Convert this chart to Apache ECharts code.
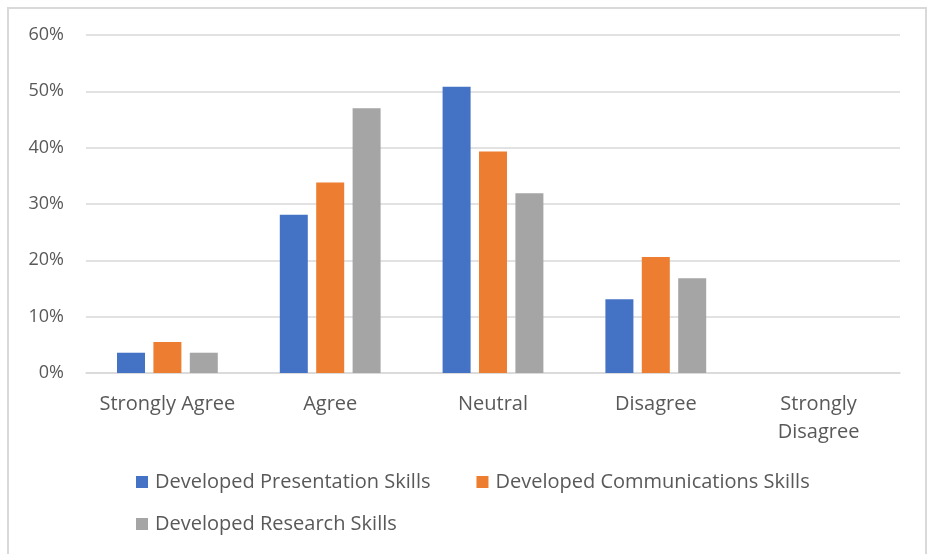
<!DOCTYPE html>
<html><head><meta charset="utf-8">
<script src="https://cdn.jsdelivr.net/npm/echarts@6/dist/echarts.min.js"></script>
<style>html,body{margin:0;padding:0;background:#fff}#c{width:928px;height:554px}</style>
</head><body><div id="c"></div>
<script>
const categories = ['Strongly Agree', 'Agree', 'Neutral', 'Disagree', 'Strongly\nDisagree'];
const presentation = [3.6, 28.1, 50.8, 13.1, 0];
const communications = [5.5, 33.8, 39.3, 20.6, 0];
const research = [3.6, 47.0, 31.9, 16.8, 0];
const seriesNames = ['Developed Presentation Skills', 'Developed Communications Skills', 'Developed Research Skills'];
const yTicks = [0, 10, 20, 30, 40, 50, 60];

const FONT = '"Open Sans", sans-serif';
const TXT = '#595959';
const chart = echarts.init(document.getElementById('c'), null, {renderer: 'canvas'});
const colors = ['#4472C4', '#ED7D31', '#A5A5A5'];
const legendText = {color: TXT, fontSize: 20, fontFamily: FONT, padding: [0, 0, 0, 2]};
chart.setOption({
  animation: false,
  color: colors,
  graphic: [{type: 'rect', shape: {x: 8, y: 8, width: 918, height: 600}, style: {fill: 'none', stroke: '#d9d9d9', lineWidth: 2}, silent: true}],
  grid: {left: 86, right: 28, top: 35, bottom: 181},
  legend: [
    {data: [seriesNames[0], seriesNames[1]], left: 136, top: 472, padding: 0, itemWidth: 12, itemHeight: 12, itemGap: 46, icon: 'rect', textStyle: legendText},
    {data: [seriesNames[2]], left: 136, top: 514, padding: 0, itemWidth: 12, itemHeight: 12, icon: 'rect', textStyle: legendText}
  ],
  xAxis: {
    type: 'category', data: categories,
    axisLine: {lineStyle: {color: '#d9d9d9', width: 1.5}},
    axisTick: {show: false},
    axisLabel: {color: TXT, fontSize: 20, fontFamily: FONT, margin: 17, lineHeight: 28, interval: 0}
  },
  yAxis: {
    type: 'value', min: 0, max: 60, interval: 10,
    axisLine: {show: false}, axisTick: {show: false},
    splitLine: {lineStyle: {color: '#d9d9d9', width: 1.5}},
    axisLabel: {color: TXT, fontSize: 18, fontFamily: FONT, margin: 22, formatter: v => yTicks.includes(v) ? v + '%' : ''}
  },
  series: [presentation, communications, research].map((d, i) => ({
    name: seriesNames[i], type: 'bar', data: d,
    barWidth: 28, barGap: '30%', barCategoryGap: '38%',
    itemStyle: {color: colors[i]}
  }))
});
</script></body></html>
